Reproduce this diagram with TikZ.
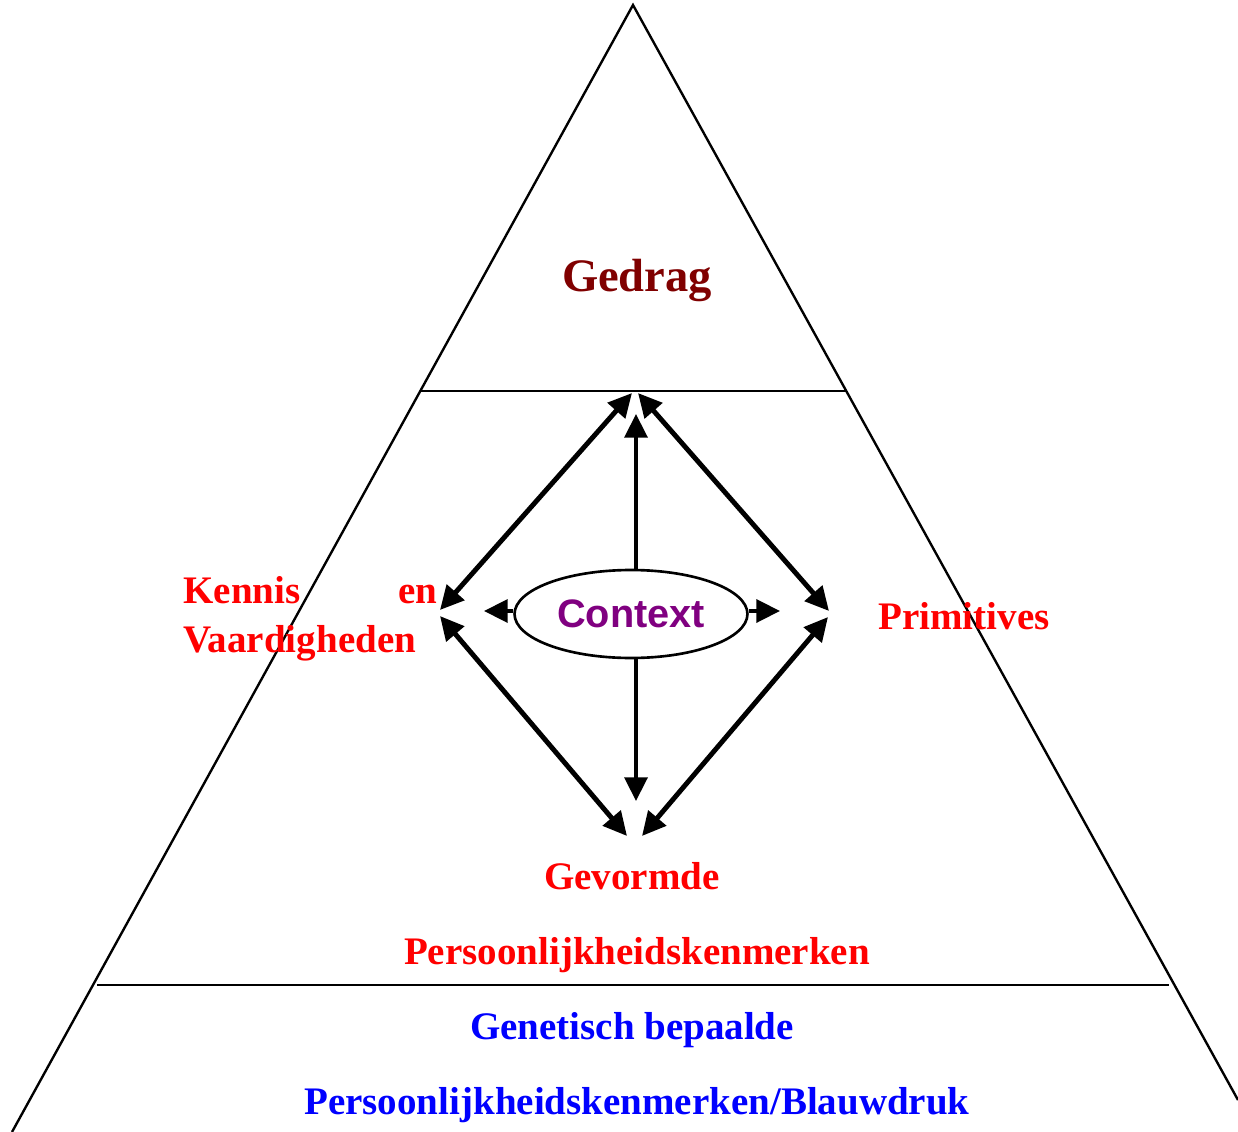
\documentclass[tikz,border=0pt]{standalone}
\usepackage{fontspec}
\setmainfont{Liberation Serif}
\setsansfont{Liberation Sans}
\usetikzlibrary{arrows.meta,shapes.geometric}
\definecolor{gedragred}{RGB}{128,0,0}
\definecolor{contextpurple}{RGB}{128,0,128}

\begin{document}
\begin{tikzpicture}[x=0.02cm, y=-0.02cm,
		line_style/.style={draw=black, line width=1.35pt},
		arrow_style/.style={draw=black, line width=2.3pt, -{Triangle[length=13.5pt,width=13pt]}},
		twoway_style/.style={draw=black, line width=2.8pt, {Triangle[length=13.5pt,width=13pt]}-{Triangle[length=13.5pt,width=13pt]}},
		label_style/.style={font=\bfseries\fontsize{22.2}{27.5}\selectfont, text=red, inner sep=0pt, anchor=base},
		base_style/.style={label_style, text=blue}]

		\useasboundingbox (0,0) rectangle (1238,1132);

		% pyramid
		\coordinate (apex) at (633,5);
		\coordinate (foot_l) at (12,1132);
		\coordinate (foot_r) at (1238,1100);
		\draw[line_style] (foot_l) -- (apex) -- (foot_r);
		\draw[line_style] (420,391) -- (846,391);
		\draw[line_style] (97,985) -- (1169,985);

		% texts
		\node[label_style, text=gedragred, font=\bfseries\fontsize{26.5}{32}\selectfont] (gedrag) at (637,291) {Gedrag};
		\node[label_style, anchor=base west, align=left] (kennis) at (183,652)
			{\makebox[5.08cm][l]{Kennis\hfill en}\\Vaardigheden};
		\node[label_style, anchor=base west] (prim) at (878,629) {Primitives};
		\node[label_style] (gevormde) at (632,889) {Gevormde};
		\node[label_style] (pers) at (637,964) {Persoonlijkheidskenmerken};
		\node[base_style] (genetisch) at (632,1039) {Genetisch bepaalde};
		\node[base_style] (blauw) at (637,1114) {Persoonlijkheidskenmerken/Blauwdruk};

		\node[ellipse, draw=black, line width=1.5pt, minimum width=4.66cm, minimum height=1.76cm, inner sep=0pt,
			font=\sffamily\bfseries\fontsize{22.6}{27}\selectfont, text=contextpurple] (ctx) at (631,614) {Context};

		% arrow ends
		\coordinate (top_l) at (632,393);
		\coordinate (top_r) at (638,393);
		\coordinate (lft_t) at (440,610);
		\coordinate (lft_b) at (440,616);
		\coordinate (rgt_t) at (829,611);
		\coordinate (rgt_b) at (828,617);
		\coordinate (bot_l) at (627,836);
		\coordinate (bot_r) at (642,836);
		\coordinate (up_tip) at (636,414);
		\coordinate (down_tip) at (636,801);
		\coordinate (west_tip) at (484,611);
		\coordinate (east_tip) at (780,611);

		\draw[twoway_style] (lft_t) -- (top_l);
		\draw[twoway_style] (rgt_t) -- (top_r);
		\draw[twoway_style] (lft_b) -- (bot_l);
		\draw[twoway_style] (rgt_b) -- (bot_r);
		\draw[arrow_style] (ctx.north -| up_tip) -- (up_tip);
		\draw[arrow_style] (ctx.south -| down_tip) -- (down_tip);
		\draw[arrow_style] (ctx.west |- west_tip) -- (west_tip);
		\draw[arrow_style] (ctx.east |- east_tip) -- (east_tip);

\end{tikzpicture}
\end{document}
